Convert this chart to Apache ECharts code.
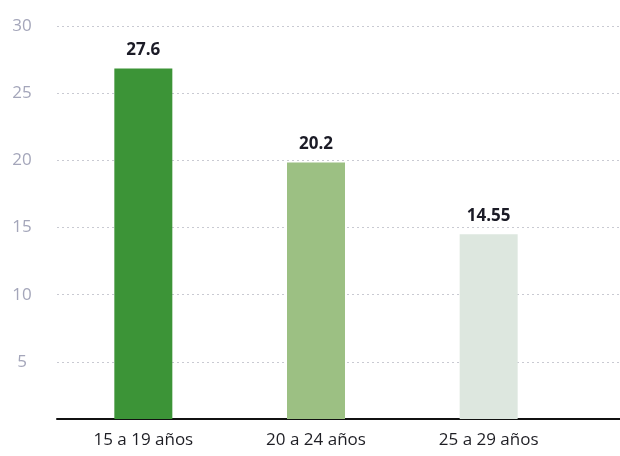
<!DOCTYPE html>
<html>
<head>
<meta charset="utf-8">
<script src="https://cdn.jsdelivr.net/npm/echarts@6/dist/echarts.min.js"></script>
<style>html,body{margin:0;padding:0;background:#fff}#c{width:620px;height:456px}</style>
</head>
<body>
<div id="c"></div>
<script>
const categories = ['15 a 19 años', '20 a 24 años', '25 a 29 años'];
const values = [27.6, 20.2, 14.55];
const barColors = ['#3c9437', '#9cc083', '#dde7df'];
const yTicks = [0, 5, 10, 15, 20, 25, 30];

const chart = echarts.init(document.getElementById('c'));
const font = '"Open Sans", "Noto Sans", sans-serif';
chart.setOption({
  backgroundColor: '#fff',
  animation: false,
  grid: [
    { left: 57, right: 45, top: 38, bottom: 37 },
    { left: 57, right: 0, top: 26, bottom: 27 },
    { left: 57, right: 0, top: 38, bottom: 37 }
  ],
  xAxis: [
    {
      gridIndex: 0, type: 'category', data: categories,
      axisLine: { show: false }, axisTick: { show: false },
      axisLabel: { color: '#1e1e24', fontSize: 17, fontWeight: 500, fontFamily: font, margin: 13 }
    },
    { gridIndex: 1, type: 'category', data: categories, show: false },
    {
      gridIndex: 2, type: 'category', data: categories,
      axisLine: { show: true, lineStyle: { color: '#111', width: 2 } },
      axisTick: { show: false }, axisLabel: { show: false }
    }
  ],
  yAxis: [
    { gridIndex: 0, type: 'value', min: 0, max: 30, show: false, splitLine: { show: false } },
    {
      gridIndex: 1, type: 'value', min: yTicks[0], max: yTicks[yTicks.length - 1], interval: 5,
      axisLine: { show: false }, axisTick: { show: false },
      axisLabel: {
        color: '#a4a6ba', fontSize: 17, fontFamily: font, align: 'center', margin: 35,
        formatter: v => (v === 0 ? '' : String(v))
      },
      splitLine: { show: true, showMinLine: false, lineStyle: { color: '#c9cad2', type: [2, 3], width: 1 } }
    },
    { gridIndex: 2, type: 'value', min: 0, max: 30, show: false, splitLine: { show: false } }
  ],
  series: [
    {
      type: 'bar', xAxisIndex: 0, yAxisIndex: 0, barWidth: 58,
      data: values.map((v, i) => ({ value: v, itemStyle: { color: barColors[i] } })),
      label: {
        show: true, position: 'top', distance: 10,
        color: '#1b1b26', fontWeight: 'bold', fontSize: 17, fontFamily: font
      },
      z: 3
    }
  ]
});
</script>
</body>
</html>
